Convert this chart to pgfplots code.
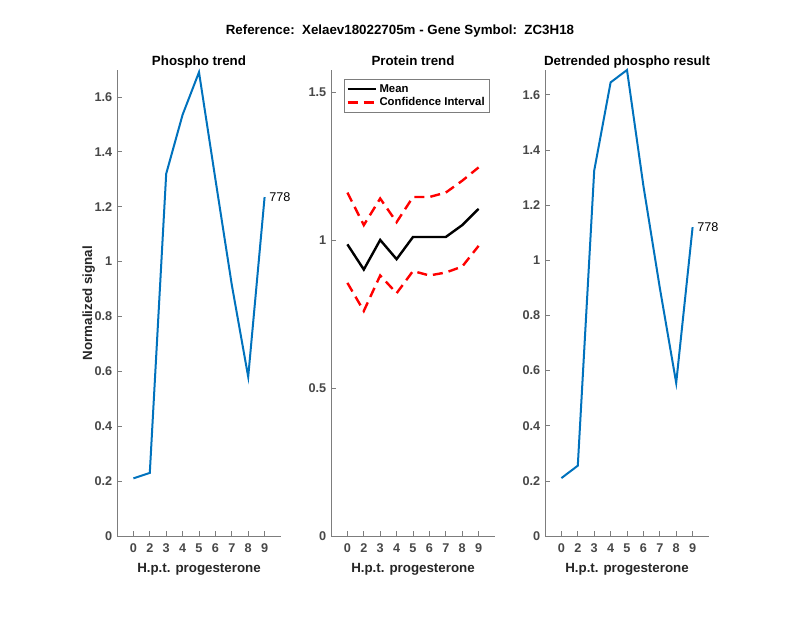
\documentclass[border=0pt]{standalone}
\usepackage{pgfplots}
\pgfplotsset{compat=1.18}
\usepackage{fontspec}
\setmainfont{Liberation Sans}
\definecolor{mblue}{rgb}{0,0.447,0.741}
\definecolor{axgray}{rgb}{0.15,0.15,0.15}
\pgfplotsset{
  mystyle/.style={
    scale only axis,
    anchor=south west,
    width=123pt, height=349.5pt,
    xmin=0, xmax=10, ymin=0,
    axis x line*=bottom, axis y line*=left,
    axis line style={color=axgray!60, line width=0.5pt},
    tick align=inside,
    major tick length=4pt,
    tick style={color=axgray!60, line width=0.5pt},
    xtick={1,...,9},
    xticklabels={0,2,3,4,5,6,7,8,9},
    /pgf/number format/assume math mode=true,
    ticklabel style={font=\bfseries\fontsize{9.5}{11}\selectfont, text=axgray!85},
    xticklabel style={yshift=-2pt},
    xlabel={H.p.t. progesterone},
    label style={font=\bfseries\fontsize{10}{12}\selectfont, text=axgray},
    title style={font=\bfseries\fontsize{10}{12}\selectfont, text=black, at={(0.5,1)}, anchor=base, yshift=-3pt},
    xlabel style={yshift=-1.5pt},
    clip=false,
  }
}
\begin{document}
\begin{tikzpicture}
\path[use as bounding box] (0,0) rectangle (600pt,463.5pt);
\node[font=\bfseries\fontsize{10}{12}\selectfont] at (300pt,440pt) {Reference:\ \ Xelaev18022705m - Gene Symbol:\ \ ZC3H18};

\begin{axis}[mystyle, at={(87.75pt,61.5pt)}, ymax=1.698,
  ytick={0,0.2,0.4,0.6,0.8,1,1.2,1.4,1.6},
  title={Phospho trend}, ylabel={Normalized signal}, ylabel style={yshift=-7pt}]
\addplot[color=mblue, line width=1.5pt] coordinates {
(1,0.21) (2,0.23) (3,1.32) (4,1.535) (5,1.69) (6,1.30) (7,0.915) (8,0.58) (9,1.235)};
\node[anchor=west, font=\fontsize{9.5}{11}\selectfont] at (axis cs:9,1.235) {778};
\end{axis}

\begin{axis}[mystyle, at={(248.25pt,61.5pt)}, ymax=1.574,
  ytick={0,0.5,1,1.5},
  title={Protein trend},
  legend style={at={(0.08,0.98)}, anchor=north west, draw=axgray!60, line width=0.5pt,
    font=\bfseries\fontsize{8.5}{10}\selectfont, inner sep=1.5pt, row sep=-1.5pt},
  legend image code/.code={\draw[#1] (0pt,0pt) -- (21pt,0pt);},
  legend cell align=left]
\addplot[black, line width=1.8pt] coordinates {
(1,0.985) (2,0.90) (3,1.0) (4,0.935) (5,1.01) (6,1.01) (7,1.01) (8,1.05) (9,1.105)};
\addlegendentry{Mean}
\addplot[red, line width=1.8pt, dash pattern=on 7.5pt off 4.5pt] coordinates {
(1,1.16) (2,1.05) (3,1.14) (4,1.06) (5,1.145) (6,1.145) (7,1.16) (8,1.20) (9,1.245)};
\addlegendentry{Confidence Interval}
\addplot[red, line width=1.8pt, dash pattern=on 7.5pt off 4.5pt, forget plot] coordinates {
(1,0.855) (2,0.76) (3,0.88) (4,0.82) (5,0.895) (6,0.88) (7,0.89) (8,0.91) (9,0.98)};
\end{axis}

\begin{axis}[mystyle, at={(408.75pt,61.5pt)}, ymax=1.69,
  ytick={0,0.2,0.4,0.6,0.8,1,1.2,1.4,1.6},
  title={Detrended phospho result}]
\addplot[color=mblue, line width=1.5pt] coordinates {
(1,0.21) (2,0.255) (3,1.325) (4,1.645) (5,1.69) (6,1.27) (7,0.90) (8,0.555) (9,1.12)};
\node[anchor=west, font=\fontsize{9.5}{11}\selectfont] at (axis cs:9,1.12) {778};
\end{axis}
\end{tikzpicture}
\end{document}
